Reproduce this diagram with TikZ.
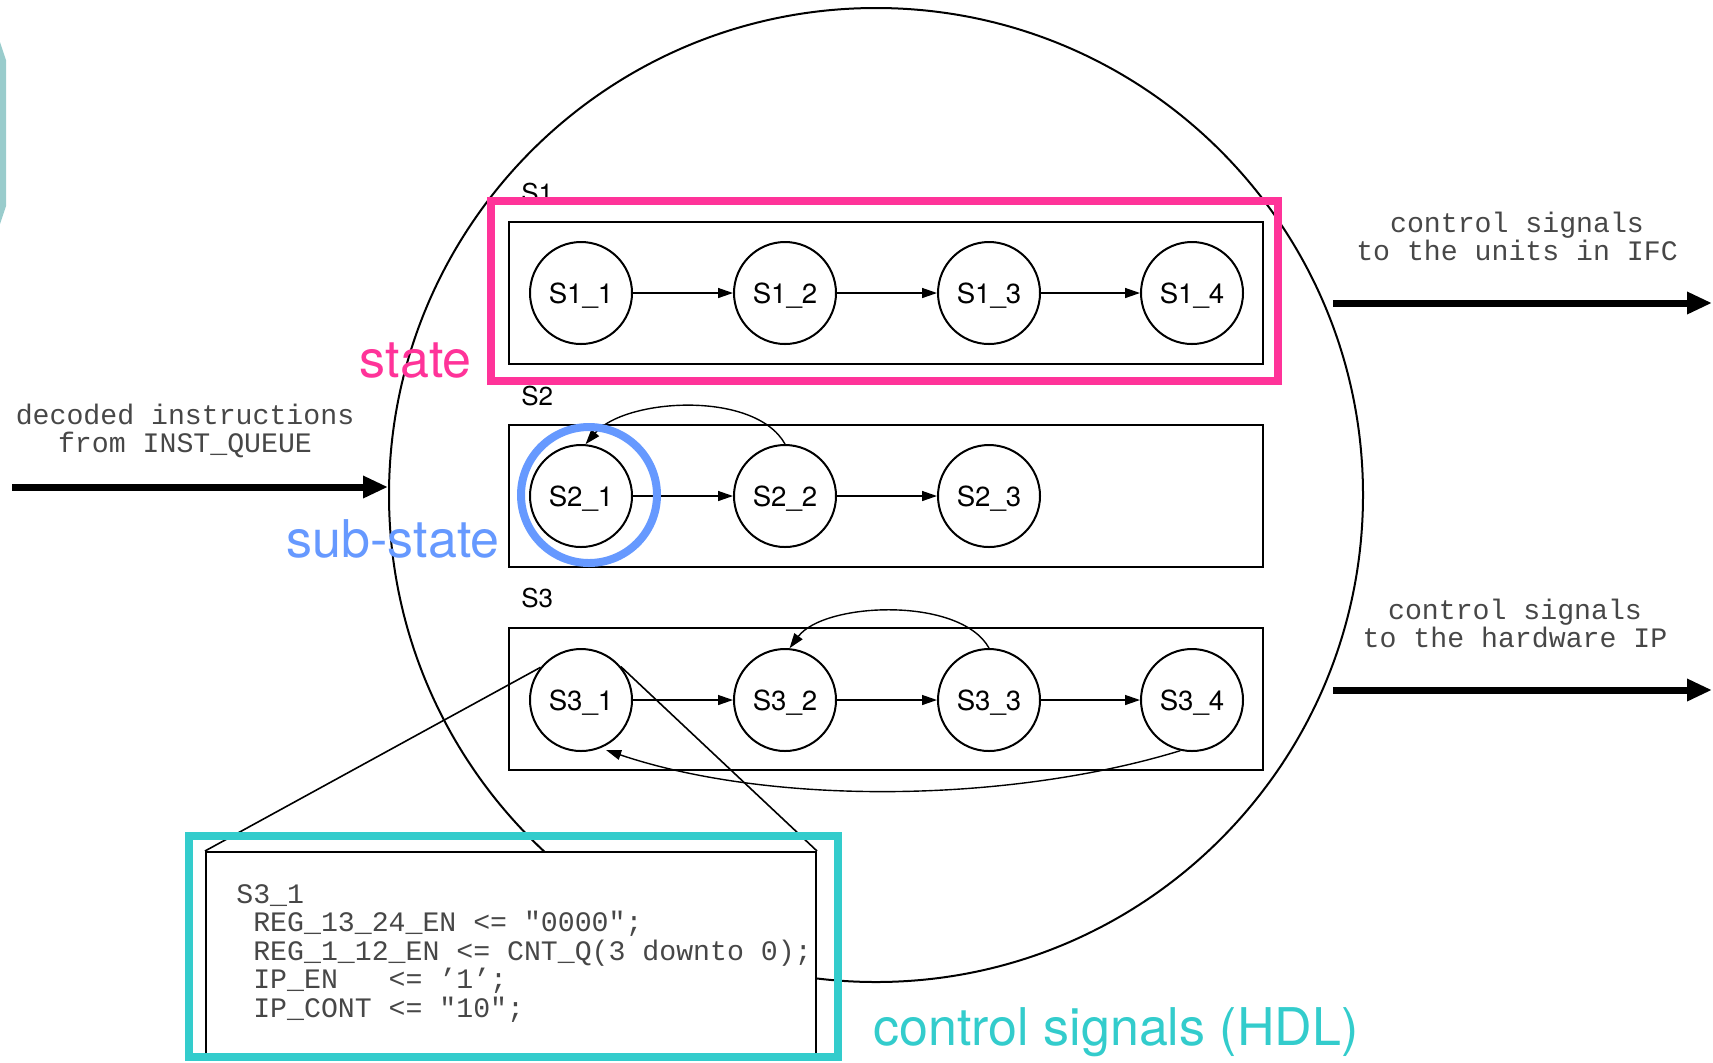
\documentclass[tikz,border=0pt]{standalone}
\usepackage{fontspec}
\setmainfont{TeX Gyre Heros}
\setmonofont{Liberation Mono}
\usetikzlibrary{arrows.meta}
\definecolor{hotpink}{HTML}{FF3399}
\definecolor{subblue}{HTML}{6699FF}
\definecolor{hdlcyan}{HTML}{33CCCC}
\definecolor{edgeteal}{HTML}{99CCCC}
\begin{document}
\begin{tikzpicture}[x=0.5pt,y=-0.5pt,
  st/.style={circle,draw,line width=1pt,minimum size=51pt,inner sep=0pt,text depth=0pt,font=\fontsize{13.8}{15}\selectfont},
  grp/.style={rectangle,draw,line width=1pt,minimum width=377pt,minimum height=71pt,inner sep=0pt},
  grplabel/.style={anchor=base west,inner sep=0pt,font=\fontsize{13}{15}\selectfont},
  tr/.style={line width=0.7pt,-{Triangle[length=7.5pt,width=5pt]}},
  bigarrow/.style={line width=3.5pt,-{Triangle[length=12.5pt,width=10.5pt]}},
  mono/.style={font=\ttfamily\fontsize{14.1}{14}\selectfont,text=black!72,inner sep=0pt,align=center,anchor=base},
  callout/.style={font=\fontsize{26}{30}\selectfont,inner sep=0pt},
  hilite/.style={draw,line width=4pt,inner sep=0pt}
]
\useasboundingbox (0,0) rectangle (1713,1062);
% teal fragment at left edge
\fill[edgeteal] (0,42) -- (6,60) -- (6,206) -- (0,224) -- cycle;
% big circle
\node[circle,draw,line width=1pt,minimum size=487pt,inner sep=0pt] (big) at (876,495) {};
% state groups
\node[grp] (b1) at (886,293) {};
\node[grp] (b2) at (886,496) {};
\node[grp] (b3) at (886,699) {};
\node[grplabel] (l1) at (521,202) {S1};
\node[grplabel] (l2) at (521,405) {S2};
\node[grplabel] (l3) at (521,607) {S3};
% sub-states
\node[st] (s11) at (581,293) {S1\_1};
\node[st] (s12) at (785,293) {S1\_2};
\node[st] (s13) at (989,293) {S1\_3};
\node[st] (s14) at (1192,293) {S1\_4};
\node[st] (s21) at (581,496) {S2\_1};
\node[st] (s22) at (785,496) {S2\_2};
\node[st] (s23) at (989,496) {S2\_3};
\node[st] (s31) at (581,700) {S3\_1};
\node[st] (s32) at (785,700) {S3\_2};
\node[st] (s33) at (989,700) {S3\_3};
\node[st] (s34) at (1192,700) {S3\_4};
% transitions
\draw[tr] (s11) -- (s12);
\draw[tr] (s12) -- (s13);
\draw[tr] (s13) -- (s14);
\draw[tr] (s21) -- (s22);
\draw[tr] (s22) -- (s23);
\draw[tr] (s22.north) .. controls (755,390) and (625,398) .. (s21.85);
\draw[tr] (s31) -- (s32);
\draw[tr] (s32) -- (s33);
\draw[tr] (s33) -- (s34);
\draw[tr] (s33.north) .. controls (960,596) and (824,602) .. (s32.85);
\draw[tr,shorten >=3pt] (s34.-103) .. controls (1009,803) and (772,806) .. (s31.-68);
% code box
\node[rectangle,draw,fill=white,line width=1pt,minimum width=305pt,minimum height=101pt,inner sep=0pt] (code) at (511,953) {};
\draw[line width=0.8pt] (s31.141) -- (code.north west);
\draw[line width=0.8pt] (s31.40) -- (code.north east);
\node[font=\ttfamily\fontsize{14.1}{14.25}\selectfont,text=black!72,inner sep=0pt,align=left,anchor=base west] (codetext) at (236,1017)
  {S3\_1\\
   \phantom{x}REG\_13\_24\_EN <= "0000";\\
   \phantom{x}REG\_1\_12\_EN <= CNT\_Q(3 downto 0);\\
   \phantom{x}IP\_EN\ \ \ <= ’1’;\\
   \phantom{x}IP\_CONT <= "10";};
% external arrows
\coordinate (inS) at (12,487);
\draw[bigarrow] (inS) -- (inS -| big.west);
\node[mono] (intext) at (185,452) {decoded instructions\\from INST\_QUEUE};
\coordinate (o1s) at (1333,303);
\coordinate (o1e) at (1712,303);
\draw[bigarrow] (o1s) -- (o1e);
\node[mono] (o1text) at (1517,260) {control signals\\to the units in IFC};
\coordinate (o2s) at (1333,690);
\coordinate (o2e) at (1712,690);
\draw[bigarrow] (o2s) -- (o2e);
\node[mono] (o2text) at (1515,647) {control signals\\to the hardware IP};
% highlights
\node[hilite,hotpink,rectangle,minimum width=393.5pt,minimum height=90pt] (pinkbox) at (884.5,291) {};
\node[hilite,subblue,circle,minimum size=68pt] (bluering) at (589,495) {};
\node[hilite,hdlcyan,rectangle,minimum width=324.5pt,minimum height=110.5pt] (cyanbox) at (513.5,946.5) {};
\node[callout,text=hotpink,anchor=base east] (statelbl) at (472,377) {state};
\node[callout,text=subblue,anchor=base east] (sublbl) at (500,557) {sub-state};
\node[callout,text=hdlcyan,anchor=base west] (hdllbl) at (873,1045) {control signals (HDL)};
\end{tikzpicture}
\end{document}
